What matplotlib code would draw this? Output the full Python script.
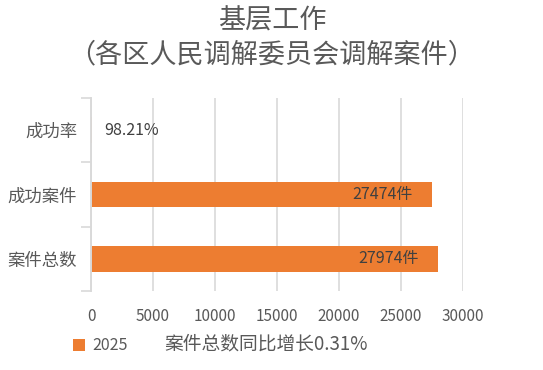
import matplotlib
matplotlib.use("Agg")
import matplotlib.pyplot as plt

plt.rcParams['font.family'] = ['Noto Sans CJK SC', 'DejaVu Sans']

categories = ["案件总数", "成功案件", "成功率"]
values = [27974, 27474, 98.21]
value_labels = ["27974件", "27474件", "98.21%"]
series_name = "2025"
xticks = [0, 5000, 10000, 15000, 20000, 25000, 30000]
title_line1 = "基层工作"
title_line2 = "（各区人民调解委员会调解案件）"
xlabel_text = "案件总数同比增长0.31%"

W, H = 543, 370
fig = plt.figure(figsize=(W / 100, H / 100), dpi=100)
ax = fig.add_axes([91 / W, 1 - 291 / H, (463 - 91) / W, (291 - 98) / H])

bar_color = "#ED7D31"
grid_color = "#D9D9D9"
text_gray = "#595959"

ypos = list(range(len(categories)))
ax.barh(ypos, values, height=0.4, color=bar_color, zorder=3, label=series_name)

ax.set_xlim(0, 30000)
ax.set_ylim(-0.5, len(categories) - 0.5)
ax.set_xticks(xticks)
ax.set_xticklabels([str(t) for t in xticks])
ax.set_yticks(ypos)
ax.set_yticklabels(categories)
ax.set_yticks([-0.5, 0.5, 1.5, 2.5], minor=True)

ax.tick_params(axis='x', length=0, pad=12, labelsize=11, labelcolor=text_gray)
ax.tick_params(axis='y', which='major', length=0, pad=10, labelsize=12.5, labelcolor=text_gray)
ax.tick_params(axis='y', which='minor', length=7, width=1.2, color=grid_color)

for s in ['top', 'right', 'bottom']:
    ax.spines[s].set_visible(False)
ax.spines['left'].set_color(grid_color)
ax.spines['left'].set_linewidth(1.4)
ax.spines['left'].set_zorder(5)

ax.grid(axis='x', color=grid_color, linewidth=1.2, zorder=0)
ax.set_axisbelow(True)

for y, v, lab in zip(ypos, values, value_labels):
    if v > 5000:
        ax.annotate(lab, xy=(v, y), xytext=(-14, 0), textcoords='offset points',
                    ha='right', va='center', fontsize=11.5, color="#404040", zorder=4)
    else:
        ax.annotate(lab, xy=(v, y), xytext=(9, 0), textcoords='offset points',
                    ha='left', va='center', fontsize=11.5, color="#404040", zorder=4)

fig.text(272 / W, 1 - 21 / H, title_line1, ha='center', va='center', fontsize=19.5, color=text_gray)
fig.text(272 / W, 1 - 55 / H, title_line2, ha='center', va='center', fontsize=19.5, color=text_gray)
fig.text(266 / W, 1 - 344 / H, xlabel_text, ha='center', va='center', fontsize=13.5, color=text_gray)

fig.legend(loc='center left', bbox_to_anchor=(59 / W, 1 - 346 / H), frameon=False,
           handlelength=0.7, handleheight=0.7, handletextpad=0.5, fontsize=11.5,
           labelcolor=text_gray)

fig.savefig("out.png", dpi=100)
